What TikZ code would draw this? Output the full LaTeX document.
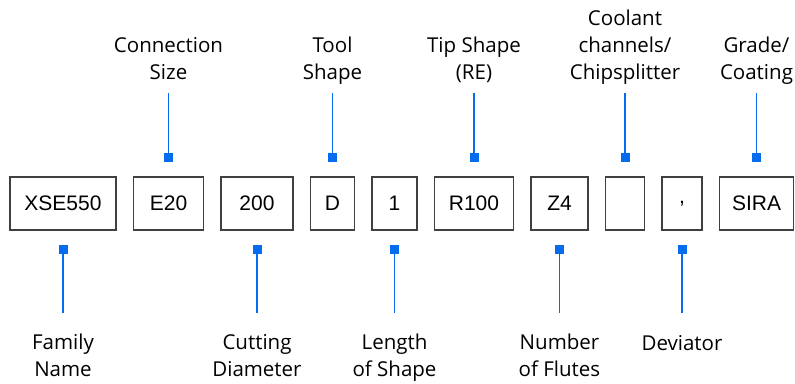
\documentclass[tikz,border=0pt]{standalone}
\usepackage{fontspec}
\setmainfont{Open Sans}
\newfontfamily\boxfont{Liberation Sans}
\usetikzlibrary{positioning}

\definecolor{markblue}{RGB}{5,108,240}
\definecolor{framegray}{RGB}{64,64,64}

\begin{document}
\begin{tikzpicture}[
    node distance={16.2pt},
    field/.style={draw=framegray, line width=1.3pt, minimum height=53pt,
        inner sep=0pt, font=\boxfont\fontsize{21}{24}\selectfont},
    tick/.style={fill=markblue, minimum size=9pt, inner sep=0pt},
    caption/.style={align=center, inner sep=0pt,
        font=\fontsize{20.5}{27}\selectfont,
        execute at begin node=\strut, execute at end node=\strut},
    lead/.style={draw=markblue, line width=1.4pt},
    up/.style={shorten >=5pt},
    down/.style={shorten >=19pt}
]
\useasboundingbox (0,0) rectangle (795pt,383pt);

% the code fields, left to right
\node[field, minimum width=106pt] (fam) at (63pt,179.5pt) {XSE550};
\node[field, minimum width=70pt] (con) [right=of fam] {E20};
\node[field, minimum width=72pt] (dia) [right=of con] {200};
\node[field, minimum width=44pt] (shp) [right=of dia] {D};
\node[field, minimum width=45pt] (len) [right=of shp] {1};
\node[field, minimum width=79pt] (tip) [right=of len] {R100};
\node[field, minimum width=57pt] (flu) [right=of tip] {Z4};
\node[field, minimum width=39pt] (cool) [right=of flu] {};
\node[field, minimum width=40pt] (dev) [right=of cool] {,};
\node[field, minimum width=74pt] (grd) [right=of dev] {SIRA};

% markers above
\node[tick] (t-con) [above=14pt of con] {};
\node[tick] (t-shp) [above=14pt of shp] {};
\node[tick] (t-tip) [above=14pt of tip] {};
\node[tick] (t-cool) [above=14pt of cool] {};
\node[tick] (t-grd) [above=14pt of grd] {};

% markers below
\node[tick] (t-fam) [below=14pt of fam] {};
\node[tick] (t-dia) [below=14pt of dia] {};
\node[tick] (t-len) [below=14pt of len] {};
\node[tick] (t-flu) [below=14pt of flu] {};
\node[tick] (t-dev) [below=14pt of dev] {};

% captions
\node[caption] (l-con) [above=65pt of t-con] {Connection\\Size};
\node[caption] (l-shp) [above=65pt of t-shp] {Tool\\Shape};
\node[caption] (l-tip) [above=65pt of t-tip] {Tip Shape\\(RE)};
\node[caption] (l-cool) [above=65pt of t-cool] {Coolant\\channels/\\Chipsplitter};
\node[caption] (l-grd) [above=65pt of t-grd] {Grade/\\Coating};

\node[caption] (l-fam) [below=80pt of t-fam] {Family\\Name};
\node[caption] (l-dia) [below=80pt of t-dia] {Cutting\\Diameter};
\node[caption] (l-len) [below=80pt of t-len] {Length\\of Shape};
\node[caption] (l-flu) [below=80pt of t-flu] {Number\\of Flutes};
\node[caption] (l-dev) [below=77pt of t-dev] {Deviator};

\path[lead]
    (t-con) edge [up] (l-con)
    (t-shp) edge [up] (l-shp)
    (t-tip) edge [up] (l-tip)
    (t-cool) edge [up] (l-cool)
    (t-grd) edge [up] (l-grd)
    (t-fam) edge [down, shorten >=21pt] (l-fam)
    (t-dia) edge [down, shorten >=21pt] (l-dia)
    (t-len) edge [down, shorten >=21pt] (l-len)
    (t-flu) edge [down, shorten >=21pt] (l-flu)
    (t-dev) edge [down, shorten >=18pt] (l-dev)
    ;

\end{tikzpicture}
\end{document}
